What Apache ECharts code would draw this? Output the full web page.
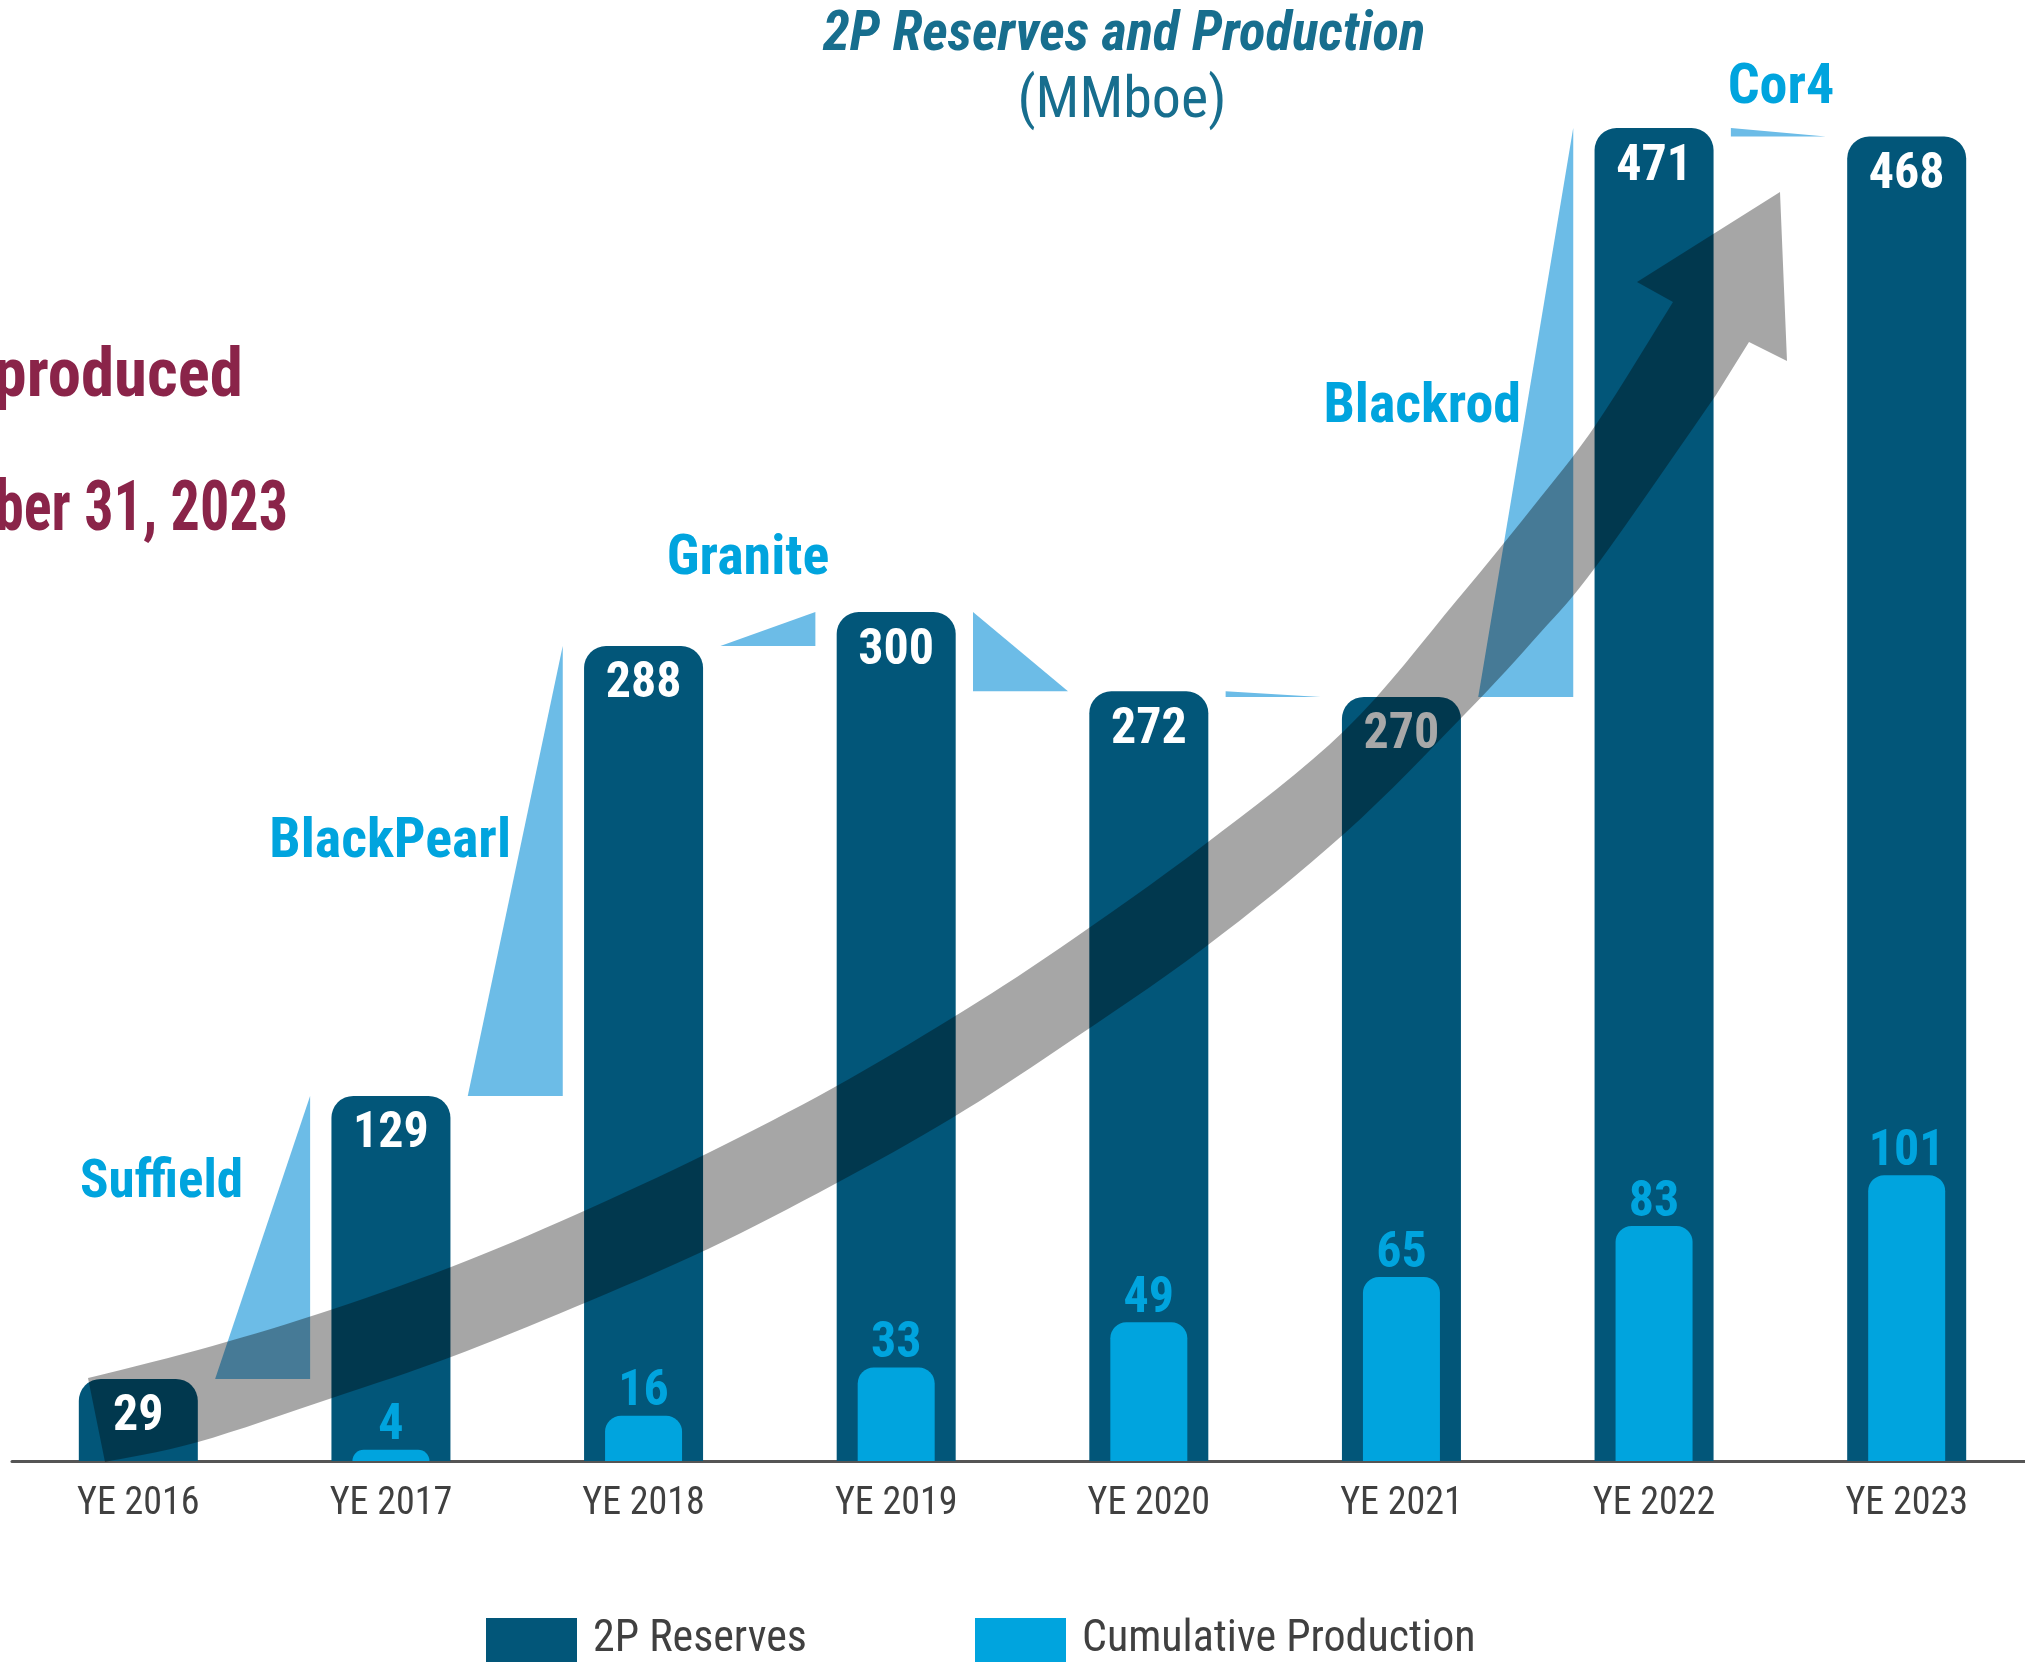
<!DOCTYPE html>
<html>
<head>
<meta charset="utf-8">
<script src="https://cdn.jsdelivr.net/npm/echarts@6/dist/echarts.min.js"></script>
<style>
html,body{margin:0;padding:0;background:#fff;}
#chart{width:2025px;height:1662px;}
</style>
</head>
<body>
<div id="chart"></div>
<script>
// ---- data ----
var categories = ['YE 2016', 'YE 2017', 'YE 2018', 'YE 2019', 'YE 2020', 'YE 2021', 'YE 2022', 'YE 2023'];
var reserves = [29, 129, 288, 300, 272, 270, 471, 468];
var production = ['-', 4, 16, 33, 49, 65, 83, 101];
var acquisitions = ['Suffield', 'BlackPearl', 'Granite', 'Blackrod', 'Cor4'];

var FONT = "'Liberation Sans Narrow', 'Roboto Condensed', 'DejaVu Sans Condensed', Arial, sans-serif";
var C_RES = '#025679', C_PROD = '#00a4de', C_WEDGE = '#6cbce7';

var wedgeData = reserves.slice(0, -1).map(function (v, i) { return [i, v, reserves[i + 1]]; });
var resLabelData = reserves.map(function (v, i) {
  return i === 5 ? { value: v, label: { color: '#a8a8a8' } } : v;
});

var chart = echarts.init(document.getElementById('chart'), null, { renderer: 'canvas' });

// decorative growth arrow outline (pixel space)
var arrowUpper = [[88,1378],[198,1350],[318,1314],[451,1267],[575,1215],[708,1153],[833,1088],
  [952,1018],[1060,948],[1204,845],[1345,730],[1457,600],[1540,498],[1597,423],[1673,302]];
var arrowHead = [[1637,282],[1780,192],[1787,361],[1749,342]];
var arrowLower = [[1716,395],[1597,565],[1540,633],[1464,715],[1345,833],[1204,948],[1060,1048],
  [952,1118],[833,1185],[708,1249],[575,1307],[451,1357],[332,1398],[198,1442],[105,1462]];

function smoothPts(pts) {
  var out = [pts[0]];
  for (var i = 0; i < pts.length - 1; i++) {
    var p0 = pts[i - 1] || pts[i], p1 = pts[i], p2 = pts[i + 1], p3 = pts[i + 2] || pts[i + 1];
    for (var k = 1; k <= 8; k++) {
      var t = k / 8, t2 = t * t, t3 = t2 * t;
      var pt = [0, 1].map(function (d) {
        return 0.5 * ((2 * p1[d]) + (-p0[d] + p2[d]) * t + (2 * p0[d] - 5 * p1[d] + 4 * p2[d] - p3[d]) * t2 +
          (-p0[d] + 3 * p1[d] - 3 * p2[d] + p3[d]) * t3);
      });
      out.push(pt);
    }
  }
  return out;
}
var arrowPts = smoothPts(arrowUpper).concat(arrowHead, smoothPts(arrowLower));

function annot(text, x, y, align, size) {
  return { type: 'text', z: 20, style: { text: text, x: x, y: y, align: align, verticalAlign: 'middle',
    fill: C_PROD, font: 'bold ' + size + 'px ' + FONT } };
}

var legendText = { fontFamily: FONT, fontSize: 44, color: '#404040', padding: [0, 0, 0, 11] };

var option = {
  backgroundColor: '#ffffff',
  animation: false,
  grid: { left: 12, width: 2021, top: 46, bottom: 201, containLabel: false, outerBoundsMode: 'none' },
  legend: [
    { data: ['2P Reserves'], left: 486, top: 1618, padding: 0, icon: 'rect', itemWidth: 91, itemHeight: 44,
      selectedMode: false, textStyle: legendText },
    { data: ['Cumulative Production'], left: 975, top: 1618, padding: 0, icon: 'rect', itemWidth: 91, itemHeight: 44,
      selectedMode: false, textStyle: legendText }
  ],
  xAxis: [
    { type: 'category', data: categories,
      axisLine: { show: true, lineStyle: { color: '#555555', width: 3 } },
      axisTick: { show: false },
      axisLabel: { fontFamily: FONT, fontSize: 38, color: '#404040', margin: 24 } },
    { type: 'category', data: categories, show: false }
  ],
  yAxis: { type: 'value', min: 0, max: 500, show: false, splitLine: { show: false } },
  series: [
    { name: 'wedges', type: 'custom', xAxisIndex: 0, yAxisIndex: 0, z: 1, silent: true,
      data: wedgeData,
      renderItem: function (params, api) {
        var i = api.value(0), a = api.value(1), b = api.value(2);
        var pA = api.coord([i, a]);
        var yB = api.coord([i, b])[1];
        var band = api.size([1, 0])[0];
        var xL = pA[0] + 0.304 * band, xR = pA[0] + 0.68 * band;
        var pts = b >= a ? [[xL, pA[1]], [xR, pA[1]], [xR, yB]] : [[xL, pA[1]], [xL, yB], [xR, yB]];
        return { type: 'polygon', shape: { points: pts }, style: { fill: C_WEDGE } };
      }
    },
    { name: '2P Reserves', type: 'bar', xAxisIndex: 0, data: reserves, barWidth: 119, barGap: '-100%', z: 2,
      itemStyle: { color: C_RES, borderRadius: [22, 22, 0, 0] } },
    { name: 'reserve labels', type: 'bar', xAxisIndex: 0, data: resLabelData, barWidth: 119, barGap: '-100%', z: 10,
      silent: true, itemStyle: { color: 'rgba(0,0,0,0)' },
      label: { show: true, position: 'insideTop', distance: 14, color: '#ffffff', fontFamily: FONT,
        fontSize: 50, fontWeight: 'bold' } },
    { name: 'Cumulative Production', type: 'bar', xAxisIndex: 1, data: production, barWidth: 77, z: 3,
      itemStyle: { color: C_PROD, borderRadius: [16, 16, 0, 0] },
      label: { show: true, position: 'top', distance: -2, color: C_PROD, fontFamily: FONT,
        fontSize: 50, fontWeight: 'bold' } }
  ],
  graphic: [
    { type: 'polygon', z: 5, silent: true, shape: { points: arrowPts }, style: { fill: 'rgba(0,0,0,0.35)' } },
    { type: 'text', z: 20, style: { text: '2P Reserves and Production', x: 1124, y: 36, align: 'center', verticalAlign: 'middle',
      fill: '#176e8e', font: 'italic bold 55px ' + FONT } },
    { type: 'text', z: 20, style: { text: '(MMboe)', x: 1122, y: 102, align: 'center', verticalAlign: 'middle',
      fill: '#176e8e', font: '58px ' + FONT } },
    { type: 'text', z: 20, x: 243, y: 379, scaleX: 0.97, style: { text: 'produced', x: 0, y: 0, align: 'right', verticalAlign: 'middle',
      fill: '#8a2449', font: 'bold 69px ' + FONT } },
    { type: 'text', z: 20, x: 288, y: 512, scaleX: 0.83, style: { text: 'December 31, 2023', x: 0, y: 0, align: 'right', verticalAlign: 'middle',
      fill: '#8a2449', font: 'bold 70px ' + FONT } },
    annot(acquisitions[0], 243, 1184, 'right', 53),
    annot(acquisitions[1], 511, 843, 'right', 56),
    annot(acquisitions[2], 748, 560, 'center', 56),
    annot(acquisitions[3], 1521, 408, 'right', 56),
    annot(acquisitions[4], 1781, 89, 'center', 56)
  ]
};
chart.setOption(option);
</script>
</body>
</html>
